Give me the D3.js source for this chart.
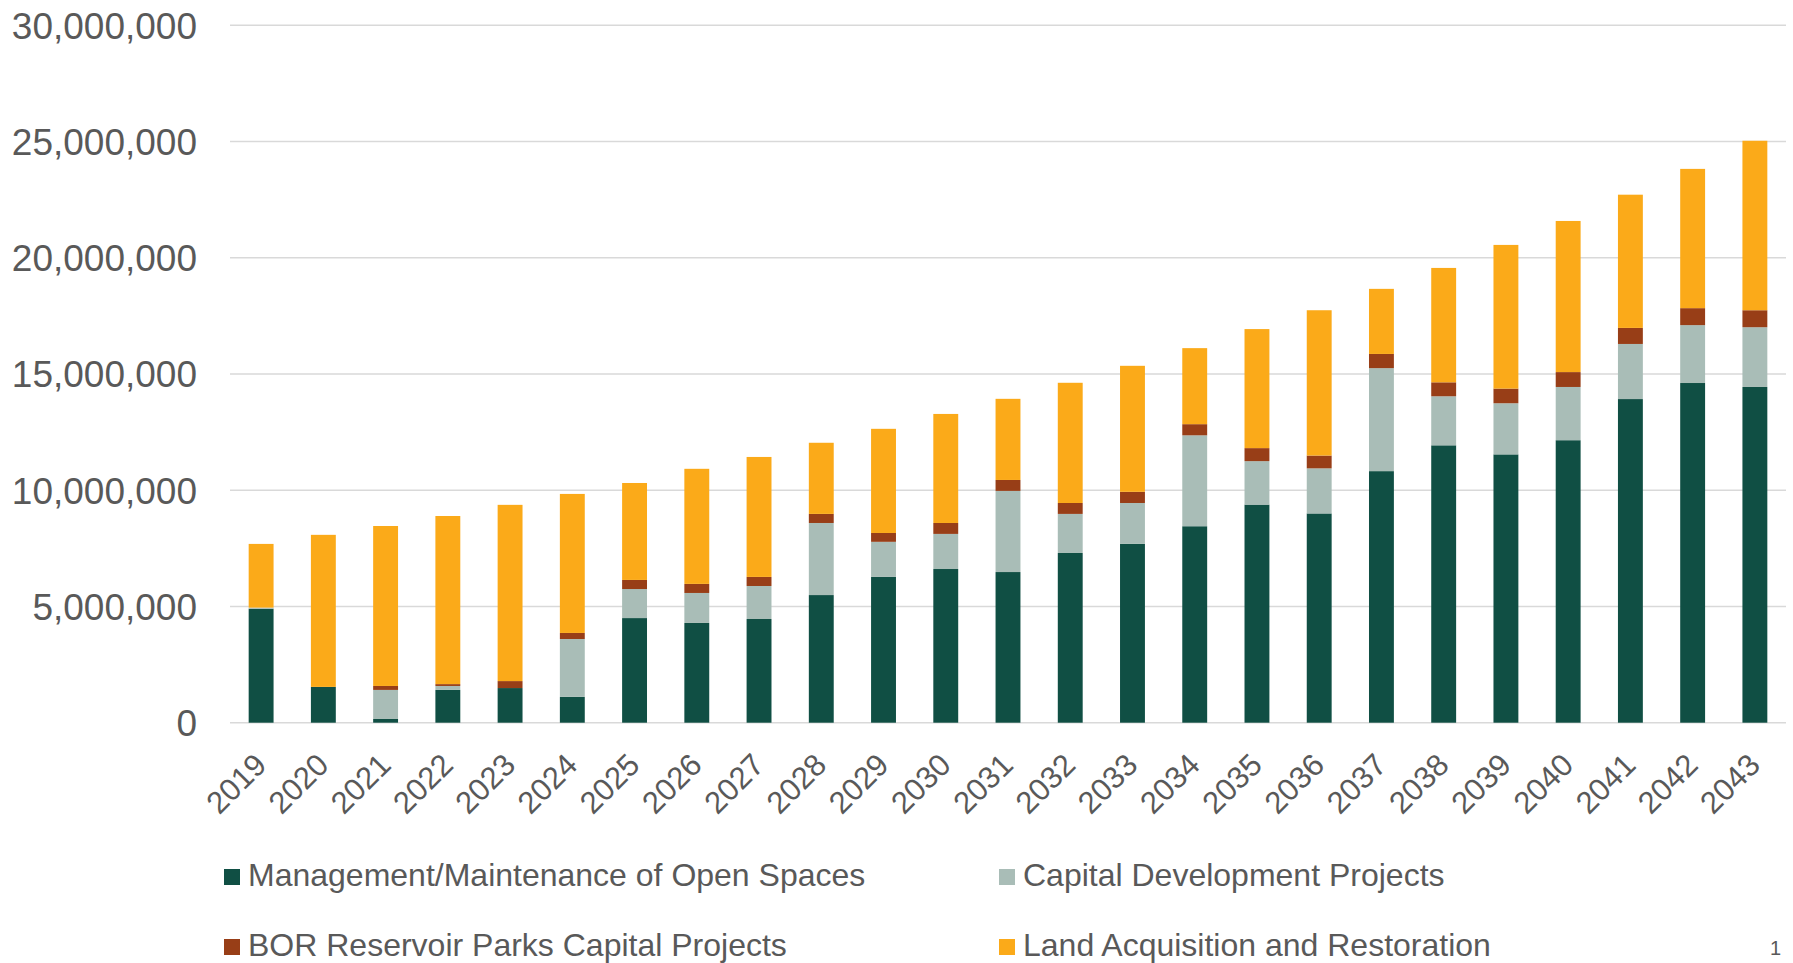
<!DOCTYPE html>
<html>
<head>
<meta charset="utf-8">
<script src="https://cdn.jsdelivr.net/npm/d3@7"></script>
<style>
  body { margin: 0; background: #fff; }
  text { font-family: "Liberation Sans", Arial, sans-serif; fill: #595959; }
</style>
</head>
<body>
<div id="chart"></div>
<script>
// data
const years = ["2019","2020","2021","2022","2023","2024","2025","2026","2027","2028","2029","2030","2031",
               "2032","2033","2034","2035","2036","2037","2038","2039","2040","2041","2042","2043"];

const management = [4900000, 1540000, 160000, 1410000, 1490000, 1110000, 4500000, 4290000, 4460000, 5490000,
  6270000, 6610000, 6480000, 7300000, 7690000, 8450000, 9380000, 9000000, 10820000, 11930000,
  11540000, 12150000, 13920000, 14610000, 14440000];
const capital = [50000, 0, 1250000, 170000, 0, 2490000, 1250000, 1290000, 1420000, 3100000,
  1510000, 1510000, 3490000, 1680000, 1760000, 3910000, 1870000, 1940000, 4430000, 2110000,
  2200000, 2290000, 2370000, 2490000, 2570000];
const bor = [0, 0, 170000, 80000, 300000, 260000, 390000, 390000, 390000, 390000,
  380000, 470000, 470000, 470000, 480000, 480000, 560000, 550000, 610000, 600000,
  630000, 640000, 690000, 730000, 730000];
const land = [2740000, 6540000, 6880000, 7230000, 7580000, 5980000, 4170000, 4950000, 5160000, 3060000,
  4480000, 4690000, 3490000, 5170000, 5420000, 3270000, 5120000, 6250000, 2800000, 4920000,
  6180000, 6500000, 5730000, 5990000, 7290000];

const seriesNames = ["Management/Maintenance of Open Spaces", "Capital Development Projects",
                     "BOR Reservoir Parks Capital Projects", "Land Acquisition and Restoration"];
const colors = ["#104f44", "#a9bdb7", "#983e17", "#fbaa19"];
const yTicks = [0, 5000000, 10000000, 15000000, 20000000, 25000000, 30000000];

const W = 1793, H = 963;
const plot = {left: 230, right: 1786, top: 25.2, bottom: 722.7};

const svg = d3.select("#chart").append("svg")
    .attr("width", W).attr("height", H);

const x = d3.scaleBand().domain(years).range([plot.left, plot.right])
    .paddingInner(0.6).paddingOuter(0.3);
const y = d3.scaleLinear().domain([0, 30000000]).range([plot.bottom, plot.top]);

// gridlines
svg.append("g")
  .selectAll("line")
  .data(yTicks)
  .join("line")
    .attr("x1", plot.left).attr("x2", plot.right)
    .attr("y1", d => y(d)).attr("y2", d => y(d))
    .attr("stroke", "#d9d9d9").attr("stroke-width", 1.4);

// y labels
svg.append("g")
  .selectAll("text")
  .data(yTicks)
  .join("text")
    .attr("x", 197)
    .attr("y", d => y(d))
    .attr("dy", "0.36em")
    .attr("text-anchor", "end")
    .style("font-size", "37px")
    .text(d => d3.format(",")(d));

// stack
const table = years.map((yr, i) => ({year: yr, s0: management[i], s1: capital[i], s2: bor[i], s3: land[i]}));
const stack = d3.stack().keys(["s0", "s1", "s2", "s3"])(table);

svg.append("g")
  .selectAll("g")
  .data(stack)
  .join("g")
    .attr("fill", (d, i) => colors[i])
  .selectAll("rect")
  .data(d => d)
  .join("rect")
    .attr("x", d => x(d.data.year))
    .attr("width", x.bandwidth())
    .attr("y", d => y(d[1]))
    .attr("height", d => y(d[0]) - y(d[1]));

// x labels
svg.append("g")
  .selectAll("text")
  .data(years)
  .join("text")
    .attr("transform", d => `translate(${x(d) + x.bandwidth() / 2 + 7}, ${plot.bottom + 44}) rotate(-45)`)
    .attr("text-anchor", "end")
    .style("font-size", "31px")
    .text(d => d);

// legend
const legendPos = [[224, 886], [999, 886], [224, 956], [999, 956]];
const legend = svg.append("g")
  .selectAll("g")
  .data(seriesNames)
  .join("g")
    .attr("transform", (d, i) => `translate(${legendPos[i][0]}, ${legendPos[i][1]})`);
legend.append("rect")
    .attr("x", 0).attr("y", -17)
    .attr("width", 16).attr("height", 16)
    .attr("fill", (d, i) => colors[i]);
legend.append("text")
    .attr("x", 24).attr("y", 0)
    .style("font-size", "32px")
    .text(d => d);

// page number in the corner
svg.append("text")
    .attr("x", 1770).attr("y", 955)
    .style("font-size", "20px")
    .text("1");
</script>
</body>
</html>
